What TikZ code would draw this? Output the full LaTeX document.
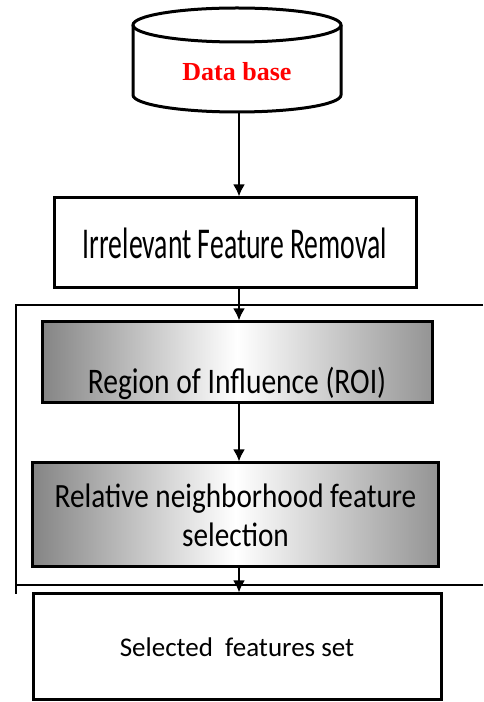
\documentclass[tikz,border=0pt]{standalone}
\usepackage{fontspec}
\setmainfont{Carlito}
\newfontfamily\irrfont[FakeStretch=0.63]{Carlito}
\newfontfamily\roifont[FakeStretch=0.82]{Carlito}
\newfontfamily\relfont[FakeStretch=0.86]{Carlito}
\newfontfamily\dbfont{Liberation Serif}
\usetikzlibrary{arrows.meta}

\begin{document}
\begin{tikzpicture}[x=1pt, y=1pt, >={Latex[length=12pt, width=12pt]},
		box/.style={draw, line width=3pt, rectangle, inner sep=0pt},
		shadebox/.style={box, left color=black!48, right color=black!42, middle color=white},
		link/.style={->, line width=2.5pt}]
		\useasboundingbox (0,0) rectangle (483,702);
		
		% data base
		\draw[line width=3pt] (237,677) ellipse [x radius=104, y radius=17];
		\draw[line width=3pt] (133,677) -- (133,607) arc[start angle=180, end angle=360, x radius=104, y radius=17] -- (341,677);
		\node[text=red, font=\dbfont\bfseries\fontsize{26}{30}\selectfont] (db) at (237,630) {Data base};
		\coordinate (dbout) at (239,590);
		
		% outer frame
		\draw[line width=1.5pt] (483,397) -- (16,397) -- (16,108);
		\draw[line width=1.5pt] (16,117) -- (483,117);
		
		\node[box, minimum width=362, minimum height=90, font=\irrfont\fontsize{44}{48}\selectfont] (irr) at (235,459) {Irrelevant Feature Removal};
		\node[shadebox, minimum width=390, minimum height=81, text height=63pt, text depth=0pt, font=\roifont\fontsize{36}{40}\selectfont] (roi) at (237,339.5) {Region of Influence (ROI)};
		\node[shadebox, minimum width=406, minimum height=104, align=center, font=\relfont\fontsize{34}{39}\selectfont] (rel) at (235.5,187) {Relative neighborhood feature\\selection};
		\node[box, minimum width=408, minimum height=106, font=\fontsize{27}{30}\selectfont] (sel) at (237,55) {Selected~ features set};
		
		\draw[link] (dbout) -- (dbout |- irr.north);
		\draw[link] (irr.south -| dbout) -- (roi.north -| dbout);
		\draw[link] (roi.south -| dbout) -- (rel.north -| dbout);
		\draw[link] (rel.south -| dbout) -- (sel.north -| dbout);
	\end{tikzpicture}
\end{document}
